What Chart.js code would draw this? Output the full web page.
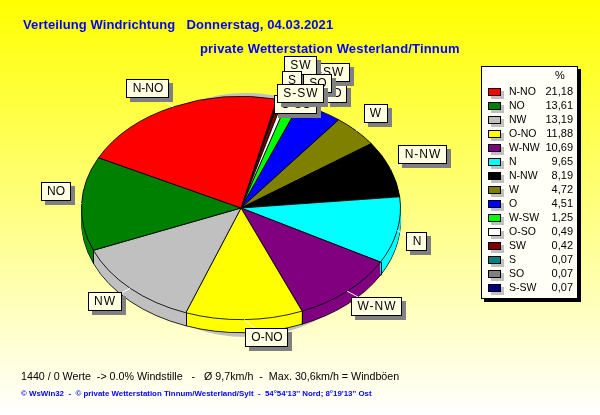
<!DOCTYPE html>
<html>
<head>
<meta charset="utf-8">
<title>Verteilung Windrichtung</title>
<script src="https://cdn.jsdelivr.net/npm/chart.js@4"></script>
<style>
    html, body { margin: 0; padding: 0; }
    body { width: 600px; height: 415px; overflow: hidden; background: linear-gradient(#ffff00, #ffffff); }
    canvas { display: block; }
</style>
</head>
<body>
<canvas id="chart" width="600" height="415"></canvas>
<script>
// Legend order, largest share first
const categories = ['N-NO', 'NO', 'NW', 'O-NO', 'W-NW', 'N', 'N-NW', 'W', 'O', 'W-SW', 'O-SO', 'SW', 'S', 'SO', 'S-SW'];
const shares = [21.18, 13.61, 13.19, 11.88, 10.69, 9.65, 8.19, 4.72, 4.51, 1.25, 0.49, 0.42, 0.07, 0.07, 0.07];
const colors = ['#ff0000', '#008000', '#c0c0c0', '#ffff00', '#800080', '#00ffff', '#000000', '#808000', '#0000ff', '#00ff00', '#ffffff', '#800000', '#008080', '#808080', '#000080'];

const titleLine1 = 'Verteilung Windrichtung   Donnerstag, 04.03.2021';
const titleLine2 = 'private Wetterstation Westerland/Tinnum';
const footerLine1 = '1440 / 0 Werte  -> 0.0% Windstille   -   Ø 9,7km/h  -  Max. 30,6km/h = Windböen';
const footerLine2 = '© WsWin32  -  © private Wetterstation Tinnum/Westerland/Sylt  -  54°54\'13\'\' Nord; 8°19\'13\'\' Ost';

// Pie is drawn round by Chart.js, then flattened and extruded
const SQUASH = 0.7;
const DEPTH = 13;

// Label box offset from the rim point of its slice, same order as categories
const labelOffsets = [[-25, -18], [-26, -12], [-25, 14], [23, 18], [30, 16], [20, 12], [33, -14], [20, -17], [17, -17], [31, -30], [11, 4], [20, -34], [13, -18], [40, -15], [24, -5]];

function text(ctx, str, x, y, font, color, align, spacing) {
    ctx.font = font;
    ctx.fillStyle = color;
    ctx.textAlign = align || 'left';
    ctx.textBaseline = 'middle';
    ctx.letterSpacing = (spacing || 0) + 'px';
    ctx.fillText(str, x, y);
    ctx.letterSpacing = '0px';
}

const pie3d = {
    id: 'pie3d',
    beforeDatasetDraw(chart, args) {
        const ctx = chart.ctx;
        const arcs = chart.getDatasetMeta(args.index).data;
        const cy = arcs[0].y;

        // grey shadow behind the pie
        ctx.save();
        ctx.fillStyle = '#c0c0c0';
        ctx.beginPath();
        ctx.ellipse(arcs[0].x + 5, cy + 7, 139, 122, 0, 0, Math.PI * 2);
        ctx.fill();
        ctx.restore();

        ctx.save();
        ctx.translate(0, cy);
        ctx.scale(1, SQUASH);
        ctx.translate(0, -cy);

        // side wall: stacked copies of the slices, outlined only at the bottom
        for (let d = DEPTH; d >= 1; d--) {
            ctx.save();
            ctx.translate(0, d / SQUASH);
            arcs.forEach(arc => {
                const real = arc.options;
                if (d !== DEPTH) {
                    arc.options = Object.create(real);
                    arc.options.borderWidth = 0;
                }
                arc.draw(ctx);
                arc.options = real;
            });
            ctx.restore();
        }
    },
    afterDatasetDraw(chart, args) {
        const ctx = chart.ctx;
        ctx.restore();

        // vertical seams between the slices on the front wall
        const arcs = chart.getDatasetMeta(args.index).data;
        ctx.strokeStyle = '#000';
        ctx.lineWidth = 1;
        arcs.forEach(arc => {
            const sin = Math.sin(arc.startAngle);
            if (sin <= 0) return;
            const x = Math.round(arc.x + arc.outerRadius * Math.cos(arc.startAngle)) + 0.5;
            const y = arc.y + arc.outerRadius * SQUASH * sin;
            ctx.beginPath();
            ctx.moveTo(x, y);
            ctx.lineTo(x, y + DEPTH);
            ctx.stroke();
        });
    },
    afterDraw(chart) {
        const ctx = chart.ctx;
        const arcs = chart.getDatasetMeta(0).data;
        const font = '12px "Liberation Sans"';

        text(ctx, titleLine1, 23, 25, 'bold 13px "Liberation Sans"', '#0000ff', 'left', 0.1);
        text(ctx, titleLine2, 200, 49, 'bold 13px "Liberation Sans"', '#0000ff', 'left', 0.18);
        text(ctx, footerLine1, 21, 377, '10.7px "Liberation Sans"', '#000');
        text(ctx, footerLine2, 21, 394, 'bold 7.9px "Liberation Sans"', '#0000ff');

        // slice labels with white leader lines
        categories.forEach((name, i) => {
            const arc = arcs[arcs.length - 1 - i];
            const mid = (arc.startAngle + arc.endAngle) / 2;
            const rimX = arc.x + arc.outerRadius * Math.cos(mid);
            const rimY = arc.y + arc.outerRadius * SQUASH * Math.sin(mid);
            const cx = Math.round(rimX + labelOffsets[i][0]);
            const cy = Math.round(rimY + labelOffsets[i][1]);
            // the W is drawn wider in the original font
            const spacing = name.includes('W') ? 1 : 0;
            ctx.font = font;
            const w = Math.round(ctx.measureText(name).width) + 12 + spacing * name.length;
            const h = 19;
            const left = cx - Math.round(w / 2);
            const top = cy - Math.round(h / 2);

            ctx.strokeStyle = '#fff';
            ctx.lineWidth = 1;
            ctx.beginPath();
            ctx.moveTo(rimX, rimY);
            ctx.lineTo(cx, cy);
            ctx.stroke();

            ctx.fillStyle = '#808080';
            ctx.fillRect(left + 4, top + 4, w, h);
            ctx.fillStyle = '#ffffe1';
            ctx.fillRect(left, top, w, h);
            ctx.strokeStyle = '#000';
            ctx.strokeRect(left + 0.5, top + 0.5, w - 1, h - 1);
            text(ctx, name, cx, top + 10, font, '#000', 'center', spacing);
        });

        // legend box
        const nameFont = '10.5px "Liberation Sans"';
        const valueFont = '11px "Liberation Sans"';
        ctx.fillStyle = '#000';
        ctx.fillRect(484, 69, 97, 233);
        ctx.fillStyle = '#fffff8';
        ctx.fillRect(481, 66, 97, 233);
        ctx.strokeStyle = '#000';
        ctx.strokeRect(481.5, 66.5, 96, 232);
        text(ctx, '%', 560, 76, valueFont, '#000', 'center');
        categories.forEach((name, i) => {
            const y = 92 + i * 14;
            ctx.fillStyle = '#c0c0c0';
            ctx.fillRect(491, y - 1, 13, 8);
            ctx.fillStyle = colors[i];
            ctx.fillRect(488, y - 4, 13, 8);
            ctx.strokeStyle = '#000';
            ctx.strokeRect(488.5, y - 3.5, 12, 7);
            text(ctx, name, 509, y, nameFont, '#000');
            text(ctx, shares[i].toFixed(2).replace('.', ','), 573, y, valueFont, '#000', 'right');
        });
    }
};

new Chart(document.getElementById('chart'), {
    type: 'pie',
    data: {
        labels: categories.slice().reverse(),
        datasets: [{
            data: shares.slice().reverse(),
            backgroundColor: colors.slice().reverse(),
            borderColor: '#000',
            borderWidth: 1,
            clip: false
        }]
    },
    options: {
        responsive: false,
        animation: false,
        rotation: 13,
        layout: { padding: { left: 81, right: 199, top: 48, bottom: 47 } },
        plugins: {
            legend: { display: false },
            title: { display: false },
            tooltip: { enabled: false }
        }
    },
    plugins: [pie3d]
});
</script>
</body>
</html>
